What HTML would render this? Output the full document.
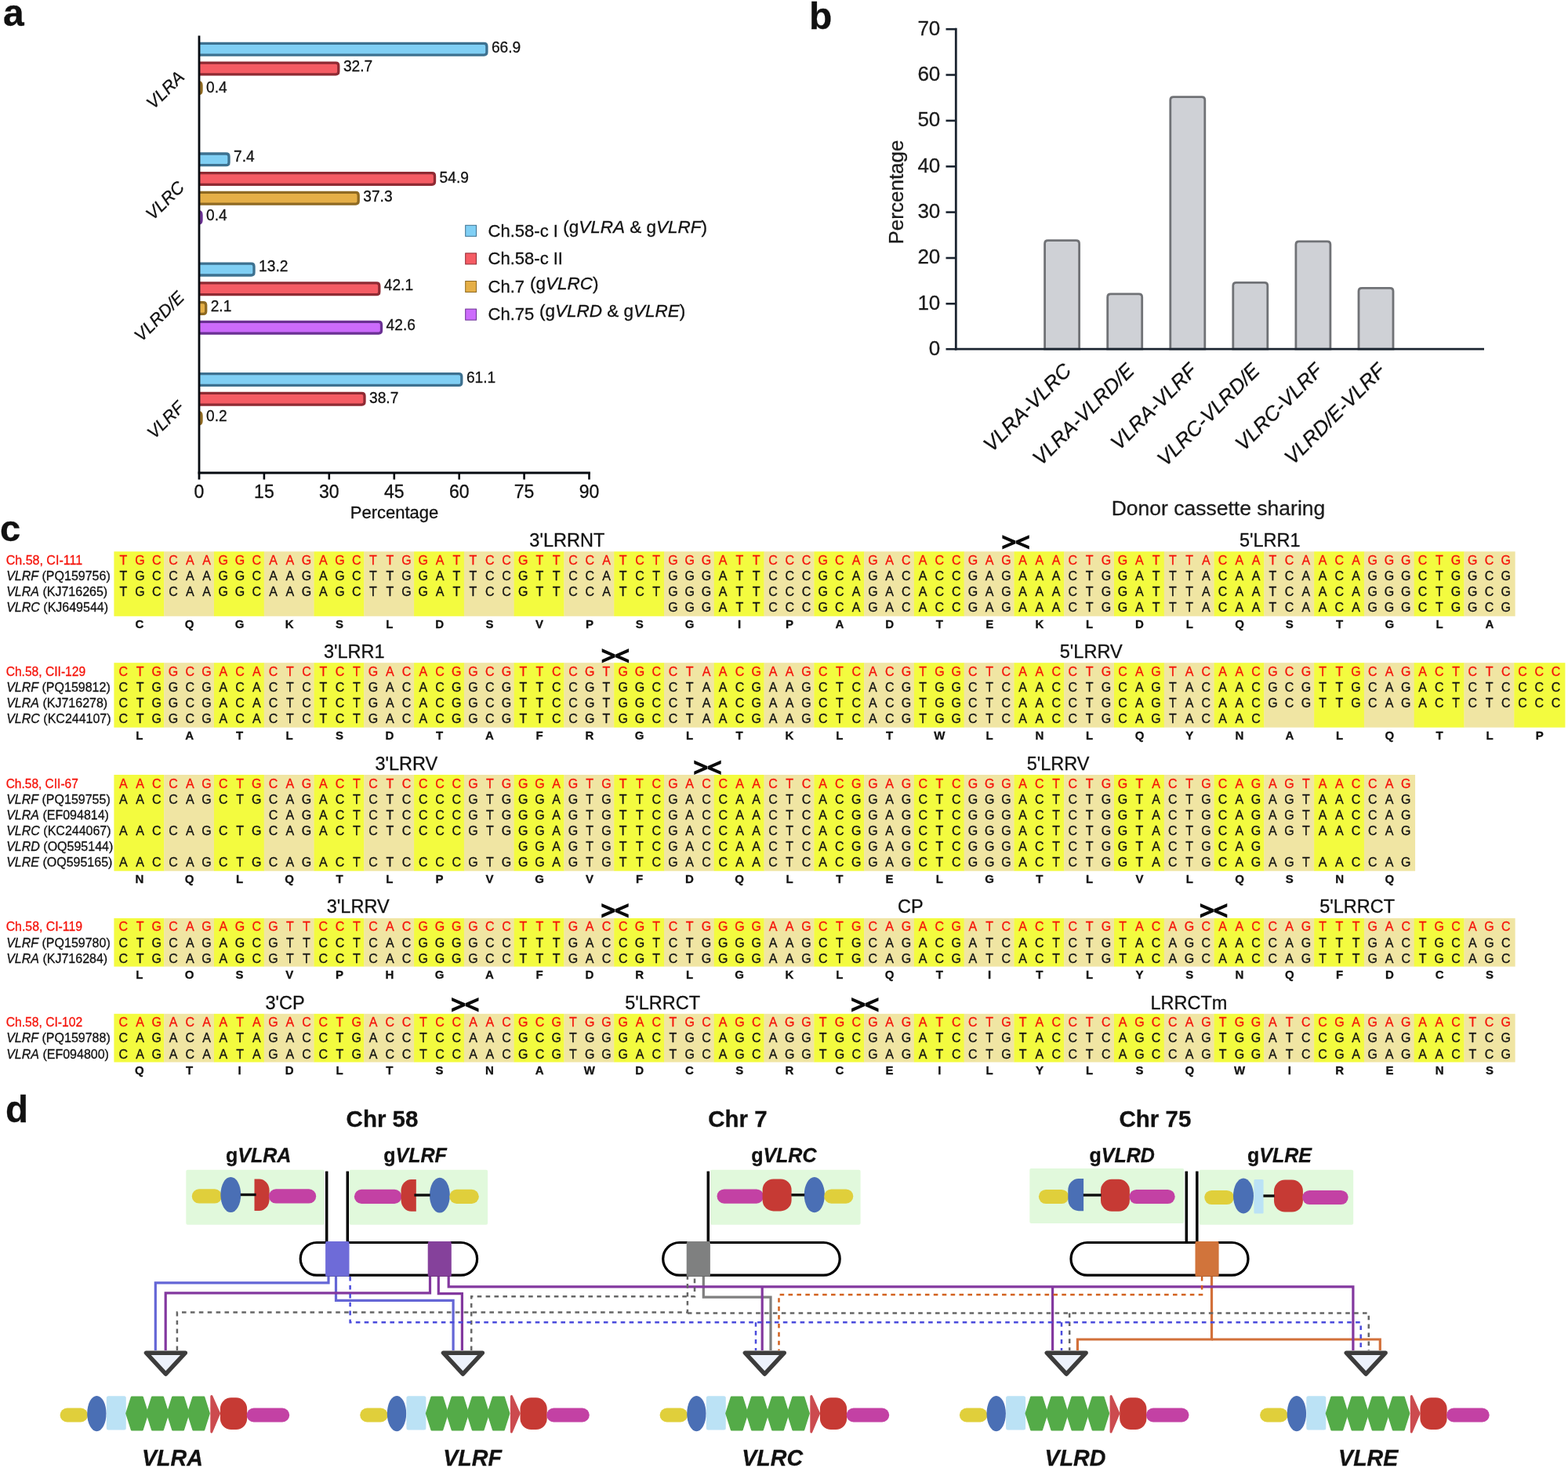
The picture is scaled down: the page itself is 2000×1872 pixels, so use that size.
<!DOCTYPE html>
<html lang="en">
<head>
<meta charset="utf-8">
<title>VLR donor cassette usage</title>
<style>
html,body{margin:0;padding:0;background:#fff;}
body{width:2000px;height:1872px;overflow:hidden;}
svg{display:block;font-family:"Liberation Sans", sans-serif;}
</style>
</head>
<body>
<svg width="2000" height="1872" viewBox="0 0 2000 1872">
<rect x="0" y="0" width="2000" height="1872" fill="#fff"/>
<g id="panel-a">
<text stroke="#111" stroke-width="0.3" x="4.0" y="33.2" font-size="48" text-anchor="start" font-weight="bold" font-style="normal" fill="#111" >a</text>
<path d="M254.0,55.4 H617.4 Q620.9,55.4 620.9,58.9 V66.6 Q620.9,70.1 617.4,70.1 H254.0" fill="#80cff4" stroke="#3d7190" stroke-width="3.3"/>
<text stroke="#111" stroke-width="0.3" x="626.9" y="66.5" font-size="21" text-anchor="start" font-weight="normal" font-style="normal" fill="#111" textLength="37.3" lengthAdjust="spacingAndGlyphs">66.9</text>
<path d="M254.0,80.2 H428.3 Q431.8,80.2 431.8,83.7 V91.3 Q431.8,94.8 428.3,94.8 H254.0" fill="#f55c64" stroke="#8f2a33" stroke-width="3.3"/>
<text stroke="#111" stroke-width="0.3" x="437.9" y="91.3" font-size="21" text-anchor="start" font-weight="normal" font-style="normal" fill="#111" textLength="37.3" lengthAdjust="spacingAndGlyphs">32.7</text>
<path d="M254.0,104.8 H254.0 Q257.0,104.8 257.0,108.8 V115.5 Q257.0,119.5 254.0,119.5 H254.0" fill="#e5af47" stroke="#8f6a22" stroke-width="3.3"/>
<text stroke="#111" stroke-width="0.3" x="263.0" y="117.7" font-size="21" text-anchor="start" font-weight="normal" font-style="normal" fill="#111" textLength="26.6" lengthAdjust="spacingAndGlyphs">0.4</text>
<text stroke="#111" stroke-width="0.3" transform="translate(236.5,99.7) rotate(-45)" font-size="22" font-style="italic" text-anchor="end" fill="#111">VLRA</text>
<path d="M254.0,196.0 H288.5 Q292.0,196.0 292.0,199.5 V207.2 Q292.0,210.7 288.5,210.7 H254.0" fill="#80cff4" stroke="#3d7190" stroke-width="3.3"/>
<text stroke="#111" stroke-width="0.3" x="298.0" y="205.7" font-size="21" text-anchor="start" font-weight="normal" font-style="normal" fill="#111" textLength="26.6" lengthAdjust="spacingAndGlyphs">7.4</text>
<path d="M254.0,220.7 H551.0 Q554.5,220.7 554.5,224.2 V231.8 Q554.5,235.3 551.0,235.3 H254.0" fill="#f55c64" stroke="#8f2a33" stroke-width="3.3"/>
<text stroke="#111" stroke-width="0.3" x="560.6" y="232.9" font-size="21" text-anchor="start" font-weight="normal" font-style="normal" fill="#111" textLength="37.3" lengthAdjust="spacingAndGlyphs">54.9</text>
<path d="M254.0,245.4 H453.7 Q457.2,245.4 457.2,248.9 V256.6 Q457.2,260.1 453.7,260.1 H254.0" fill="#e5af47" stroke="#8f6a22" stroke-width="3.3"/>
<text stroke="#111" stroke-width="0.3" x="463.3" y="256.7" font-size="21" text-anchor="start" font-weight="normal" font-style="normal" fill="#111" textLength="37.3" lengthAdjust="spacingAndGlyphs">37.3</text>
<path d="M254.0,270.0 H254.0 Q257.0,270.0 257.0,274.0 V280.8 Q257.0,284.8 254.0,284.8 H254.0" fill="#cc6bfb" stroke="#6a3093" stroke-width="3.3"/>
<text stroke="#111" stroke-width="0.3" x="263.0" y="280.6" font-size="21" text-anchor="start" font-weight="normal" font-style="normal" fill="#111" textLength="26.6" lengthAdjust="spacingAndGlyphs">0.4</text>
<text stroke="#111" stroke-width="0.3" transform="translate(236.5,240.2) rotate(-45)" font-size="22" font-style="italic" text-anchor="end" fill="#111">VLRC</text>
<path d="M254.0,336.2 H320.5 Q324.0,336.2 324.0,339.8 V347.5 Q324.0,351.0 320.5,351.0 H254.0" fill="#80cff4" stroke="#3d7190" stroke-width="3.3"/>
<text stroke="#111" stroke-width="0.3" x="330.1" y="346.3" font-size="21" text-anchor="start" font-weight="normal" font-style="normal" fill="#111" textLength="37.3" lengthAdjust="spacingAndGlyphs">13.2</text>
<path d="M254.0,360.9 H480.3 Q483.8,360.9 483.8,364.4 V372.2 Q483.8,375.7 480.3,375.7 H254.0" fill="#f55c64" stroke="#8f2a33" stroke-width="3.3"/>
<text stroke="#111" stroke-width="0.3" x="489.8" y="369.9" font-size="21" text-anchor="start" font-weight="normal" font-style="normal" fill="#111" textLength="37.3" lengthAdjust="spacingAndGlyphs">42.1</text>
<path d="M254.0,385.6 H259.2 Q262.7,385.6 262.7,389.1 V396.9 Q262.7,400.4 259.2,400.4 H254.0" fill="#e5af47" stroke="#8f6a22" stroke-width="3.3"/>
<text stroke="#111" stroke-width="0.3" x="268.7" y="397.0" font-size="21" text-anchor="start" font-weight="normal" font-style="normal" fill="#111" textLength="26.6" lengthAdjust="spacingAndGlyphs">2.1</text>
<path d="M254.0,410.4 H483.0 Q486.5,410.4 486.5,413.9 V421.6 Q486.5,425.1 483.0,425.1 H254.0" fill="#cc6bfb" stroke="#6a3093" stroke-width="3.3"/>
<text stroke="#111" stroke-width="0.3" x="492.6" y="420.9" font-size="21" text-anchor="start" font-weight="normal" font-style="normal" fill="#111" textLength="37.3" lengthAdjust="spacingAndGlyphs">42.6</text>
<text stroke="#111" stroke-width="0.3" transform="translate(236.5,380.5) rotate(-45)" font-size="22" font-style="italic" text-anchor="end" fill="#111">VLRD/E</text>
<path d="M254.0,476.6 H585.3 Q588.8,476.6 588.8,480.1 V487.9 Q588.8,491.4 585.3,491.4 H254.0" fill="#80cff4" stroke="#3d7190" stroke-width="3.3"/>
<text stroke="#111" stroke-width="0.3" x="594.9" y="488.4" font-size="21" text-anchor="start" font-weight="normal" font-style="normal" fill="#111" textLength="37.3" lengthAdjust="spacingAndGlyphs">61.1</text>
<path d="M254.0,501.3 H461.5 Q465.0,501.3 465.0,504.8 V512.6 Q465.0,516.1 461.5,516.1 H254.0" fill="#f55c64" stroke="#8f2a33" stroke-width="3.3"/>
<text stroke="#111" stroke-width="0.3" x="471.0" y="514.0" font-size="21" text-anchor="start" font-weight="normal" font-style="normal" fill="#111" textLength="37.3" lengthAdjust="spacingAndGlyphs">38.7</text>
<path d="M254.0,526.0 H254.0 Q257.0,526.0 257.0,530.0 V536.8 Q257.0,540.8 254.0,540.8 H254.0" fill="#e5af47" stroke="#8f6a22" stroke-width="3.3"/>
<text stroke="#111" stroke-width="0.3" x="263.0" y="537.4" font-size="21" text-anchor="start" font-weight="normal" font-style="normal" fill="#111" textLength="26.6" lengthAdjust="spacingAndGlyphs">0.2</text>
<text stroke="#111" stroke-width="0.3" transform="translate(236.5,520.9) rotate(-45)" font-size="22" font-style="italic" text-anchor="end" fill="#111">VLRF</text>
<line x1="254.0" y1="45.5" x2="254.0" y2="611.5" stroke="#060a10" stroke-width="2.8"/>
<line x1="252.6" y1="603.0" x2="752.9" y2="603.0" stroke="#060a10" stroke-width="2.8"/>
<text stroke="#111" stroke-width="0.3" x="254.0" y="635.0" font-size="23" text-anchor="middle" font-weight="normal" font-style="normal" fill="#111" >0</text>
<line x1="336.9" y1="603.0" x2="336.9" y2="611.5" stroke="#060a10" stroke-width="2.6"/>
<text stroke="#111" stroke-width="0.3" x="336.9" y="635.0" font-size="23" text-anchor="middle" font-weight="normal" font-style="normal" fill="#111" >15</text>
<line x1="419.8" y1="603.0" x2="419.8" y2="611.5" stroke="#060a10" stroke-width="2.6"/>
<text stroke="#111" stroke-width="0.3" x="419.8" y="635.0" font-size="23" text-anchor="middle" font-weight="normal" font-style="normal" fill="#111" >30</text>
<line x1="502.8" y1="603.0" x2="502.8" y2="611.5" stroke="#060a10" stroke-width="2.6"/>
<text stroke="#111" stroke-width="0.3" x="502.8" y="635.0" font-size="23" text-anchor="middle" font-weight="normal" font-style="normal" fill="#111" >45</text>
<line x1="585.7" y1="603.0" x2="585.7" y2="611.5" stroke="#060a10" stroke-width="2.6"/>
<text stroke="#111" stroke-width="0.3" x="585.7" y="635.0" font-size="23" text-anchor="middle" font-weight="normal" font-style="normal" fill="#111" >60</text>
<line x1="668.6" y1="603.0" x2="668.6" y2="611.5" stroke="#060a10" stroke-width="2.6"/>
<text stroke="#111" stroke-width="0.3" x="668.6" y="635.0" font-size="23" text-anchor="middle" font-weight="normal" font-style="normal" fill="#111" >75</text>
<line x1="751.5" y1="603.0" x2="751.5" y2="611.5" stroke="#060a10" stroke-width="2.6"/>
<text stroke="#111" stroke-width="0.3" x="751.5" y="635.0" font-size="23" text-anchor="middle" font-weight="normal" font-style="normal" fill="#111" >90</text>
<text stroke="#111" stroke-width="0.3" x="503.0" y="661.3" font-size="22" text-anchor="middle" font-weight="normal" font-style="normal" fill="#111" >Percentage</text>
<rect x="593.7" y="287.3" width="13.8" height="14" fill="#80cff4" stroke="#3d7190" stroke-width="1"/>
<text stroke="#111" stroke-width="0.3" x="622.6" y="301.6" font-size="22" text-anchor="start" font-weight="normal" font-style="normal" fill="#111" >Ch.58-c I</text>
<text stroke="#111" stroke-width="0.3" x="718.2" y="297.4" font-size="22.5" text-anchor="start" font-weight="normal" font-style="normal" fill="#111" >(g<tspan font-style="italic">VLRA</tspan> &amp; g<tspan font-style="italic">VLRF</tspan>)</text>
<rect x="593.7" y="322.9" width="13.8" height="14" fill="#f55c64" stroke="#8f2a33" stroke-width="1"/>
<text stroke="#111" stroke-width="0.3" x="622.6" y="337.2" font-size="22" text-anchor="start" font-weight="normal" font-style="normal" fill="#111" >Ch.58-c II</text>
<rect x="593.7" y="358.5" width="13.8" height="14" fill="#e5af47" stroke="#8f6a22" stroke-width="1"/>
<text stroke="#111" stroke-width="0.3" x="622.6" y="372.8" font-size="22" text-anchor="start" font-weight="normal" font-style="normal" fill="#111" >Ch.7</text>
<text stroke="#111" stroke-width="0.3" x="675.9" y="368.6" font-size="22.5" text-anchor="start" font-weight="normal" font-style="normal" fill="#111" >(g<tspan font-style="italic">VLRC</tspan>)</text>
<rect x="593.7" y="394.1" width="13.8" height="14" fill="#cc6bfb" stroke="#6a3093" stroke-width="1"/>
<text stroke="#111" stroke-width="0.3" x="622.6" y="408.4" font-size="22" text-anchor="start" font-weight="normal" font-style="normal" fill="#111" >Ch.75</text>
<text stroke="#111" stroke-width="0.3" x="688.0" y="404.2" font-size="22.5" text-anchor="start" font-weight="normal" font-style="normal" fill="#111" >(g<tspan font-style="italic">VLRD</tspan> &amp; g<tspan font-style="italic">VLRE</tspan>)</text>
</g>
<g id="panel-b">
<text stroke="#111" stroke-width="0.3" x="1032.0" y="36.6" font-size="48" text-anchor="start" font-weight="bold" font-style="normal" fill="#111" >b</text>
<path d="M1332.6,445.2 V310.7 Q1332.6,306.7 1336.6,306.7 H1372.6 Q1376.6,306.7 1376.6,310.7 V445.2 Z" fill="#cfd1d6" stroke="#707276" stroke-width="2.8"/>
<text stroke="#111" stroke-width="0.3" transform="translate(1368.1,474.2) rotate(-45)" font-size="26" font-style="italic" text-anchor="end" fill="#111">VLRA-VLRC</text>
<path d="M1412.7,445.2 V378.9 Q1412.7,374.9 1416.7,374.9 H1452.7 Q1456.7,374.9 1456.7,378.9 V445.2 Z" fill="#cfd1d6" stroke="#707276" stroke-width="2.8"/>
<text stroke="#111" stroke-width="0.3" transform="translate(1448.2,474.2) rotate(-45)" font-size="26" font-style="italic" text-anchor="end" fill="#111">VLRA-VLRD/E</text>
<path d="M1492.8,445.2 V127.6 Q1492.8,123.6 1496.8,123.6 H1532.8 Q1536.8,123.6 1536.8,127.6 V445.2 Z" fill="#cfd1d6" stroke="#707276" stroke-width="2.8"/>
<text stroke="#111" stroke-width="0.3" transform="translate(1528.3,474.2) rotate(-45)" font-size="26" font-style="italic" text-anchor="end" fill="#111">VLRA-VLRF</text>
<path d="M1572.8,445.2 V364.3 Q1572.8,360.3 1576.8,360.3 H1612.8 Q1616.8,360.3 1616.8,364.3 V445.2 Z" fill="#cfd1d6" stroke="#707276" stroke-width="2.8"/>
<text stroke="#111" stroke-width="0.3" transform="translate(1608.3,474.2) rotate(-45)" font-size="26" font-style="italic" text-anchor="end" fill="#111">VLRC-VLRD/E</text>
<path d="M1652.9,445.2 V311.8 Q1652.9,307.8 1656.9,307.8 H1692.9 Q1696.9,307.8 1696.9,311.8 V445.2 Z" fill="#cfd1d6" stroke="#707276" stroke-width="2.8"/>
<text stroke="#111" stroke-width="0.3" transform="translate(1688.4,474.2) rotate(-45)" font-size="26" font-style="italic" text-anchor="end" fill="#111">VLRC-VLRF</text>
<path d="M1733.0,445.2 V371.3 Q1733.0,367.3 1737.0,367.3 H1773.0 Q1777.0,367.3 1777.0,371.3 V445.2 Z" fill="#cfd1d6" stroke="#707276" stroke-width="2.8"/>
<text stroke="#111" stroke-width="0.3" transform="translate(1768.5,474.2) rotate(-45)" font-size="26" font-style="italic" text-anchor="end" fill="#111">VLRD/E-VLRF</text>
<line x1="1219.3" y1="35.8" x2="1219.3" y2="446.59999999999997" stroke="#1b2430" stroke-width="2.8"/>
<line x1="1217.8999999999999" y1="445.2" x2="1893" y2="445.2" stroke="#1b2430" stroke-width="2.8"/>
<line x1="1206.5" y1="445.2" x2="1219.3" y2="445.2" stroke="#1b2430" stroke-width="2.6"/>
<text stroke="#1b1b1b" stroke-width="0.3" x="1199.3" y="452.6" font-size="26" text-anchor="end" font-weight="normal" font-style="normal" fill="#1b1b1b" >0</text>
<line x1="1206.5" y1="387.3" x2="1219.3" y2="387.3" stroke="#1b2430" stroke-width="2.6"/>
<text stroke="#1b1b1b" stroke-width="0.3" x="1199.3" y="394.7" font-size="26" text-anchor="end" font-weight="normal" font-style="normal" fill="#1b1b1b" >10</text>
<line x1="1206.5" y1="329.0" x2="1219.3" y2="329.0" stroke="#1b2430" stroke-width="2.6"/>
<text stroke="#1b1b1b" stroke-width="0.3" x="1199.3" y="336.4" font-size="26" text-anchor="end" font-weight="normal" font-style="normal" fill="#1b1b1b" >20</text>
<line x1="1206.5" y1="270.6" x2="1219.3" y2="270.6" stroke="#1b2430" stroke-width="2.6"/>
<text stroke="#1b1b1b" stroke-width="0.3" x="1199.3" y="278.0" font-size="26" text-anchor="end" font-weight="normal" font-style="normal" fill="#1b1b1b" >30</text>
<line x1="1206.5" y1="212.3" x2="1219.3" y2="212.3" stroke="#1b2430" stroke-width="2.6"/>
<text stroke="#1b1b1b" stroke-width="0.3" x="1199.3" y="219.7" font-size="26" text-anchor="end" font-weight="normal" font-style="normal" fill="#1b1b1b" >40</text>
<line x1="1206.5" y1="153.9" x2="1219.3" y2="153.9" stroke="#1b2430" stroke-width="2.6"/>
<text stroke="#1b1b1b" stroke-width="0.3" x="1199.3" y="161.3" font-size="26" text-anchor="end" font-weight="normal" font-style="normal" fill="#1b1b1b" >50</text>
<line x1="1206.5" y1="95.5" x2="1219.3" y2="95.5" stroke="#1b2430" stroke-width="2.6"/>
<text stroke="#1b1b1b" stroke-width="0.3" x="1199.3" y="102.9" font-size="26" text-anchor="end" font-weight="normal" font-style="normal" fill="#1b1b1b" >60</text>
<line x1="1206.5" y1="37.2" x2="1219.3" y2="37.2" stroke="#1b2430" stroke-width="2.6"/>
<text stroke="#1b1b1b" stroke-width="0.3" x="1199.3" y="44.6" font-size="26" text-anchor="end" font-weight="normal" font-style="normal" fill="#1b1b1b" >70</text>
<text stroke="#1b1b1b" stroke-width="0.3" transform="translate(1151.8,245) rotate(-90)" font-size="26" text-anchor="middle" fill="#1b1b1b">Percentage</text>
<text stroke="#1b1b1b" stroke-width="0.3" x="1554.0" y="657.2" font-size="26" text-anchor="middle" font-weight="normal" font-style="normal" fill="#1b1b1b" textLength="272.6" lengthAdjust="spacingAndGlyphs">Donor cassette sharing</text>
</g>
<g id="panel-c">
<text stroke="#111" stroke-width="0.3" x="0.0" y="690.4" font-size="47" text-anchor="start" font-weight="bold" font-style="normal" fill="#111" >c</text>
<rect x="145.40" y="703.3" width="64.08" height="82.5" fill="#f3fb3f"/>
<rect x="209.18" y="703.3" width="64.08" height="82.5" fill="#f0e5a3"/>
<rect x="272.96" y="703.3" width="64.08" height="82.5" fill="#f3fb3f"/>
<rect x="336.74" y="703.3" width="64.08" height="82.5" fill="#f0e5a3"/>
<rect x="400.52" y="703.3" width="64.08" height="82.5" fill="#f3fb3f"/>
<rect x="464.30" y="703.3" width="64.08" height="82.5" fill="#f0e5a3"/>
<rect x="528.08" y="703.3" width="64.08" height="82.5" fill="#f3fb3f"/>
<rect x="591.86" y="703.3" width="64.08" height="82.5" fill="#f0e5a3"/>
<rect x="655.64" y="703.3" width="64.08" height="82.5" fill="#f3fb3f"/>
<rect x="719.42" y="703.3" width="64.08" height="82.5" fill="#f0e5a3"/>
<rect x="783.20" y="703.3" width="64.08" height="82.5" fill="#f3fb3f"/>
<rect x="846.98" y="703.3" width="64.08" height="82.5" fill="#f0e5a3"/>
<rect x="910.76" y="703.3" width="64.08" height="82.5" fill="#f3fb3f"/>
<rect x="974.54" y="703.3" width="64.08" height="82.5" fill="#f0e5a3"/>
<rect x="1038.32" y="703.3" width="64.08" height="82.5" fill="#f3fb3f"/>
<rect x="1102.10" y="703.3" width="64.08" height="82.5" fill="#f0e5a3"/>
<rect x="1165.88" y="703.3" width="64.08" height="82.5" fill="#f3fb3f"/>
<rect x="1229.66" y="703.3" width="64.08" height="82.5" fill="#f0e5a3"/>
<rect x="1293.44" y="703.3" width="64.08" height="82.5" fill="#f3fb3f"/>
<rect x="1357.22" y="703.3" width="64.08" height="82.5" fill="#f0e5a3"/>
<rect x="1421.00" y="703.3" width="64.08" height="82.5" fill="#f3fb3f"/>
<rect x="1484.78" y="703.3" width="64.08" height="82.5" fill="#f0e5a3"/>
<rect x="1548.56" y="703.3" width="64.08" height="82.5" fill="#f3fb3f"/>
<rect x="1612.34" y="703.3" width="64.08" height="82.5" fill="#f0e5a3"/>
<rect x="1676.12" y="703.3" width="64.08" height="82.5" fill="#f3fb3f"/>
<rect x="1739.90" y="703.3" width="64.08" height="82.5" fill="#f0e5a3"/>
<rect x="1803.68" y="703.3" width="64.08" height="82.5" fill="#f3fb3f"/>
<rect x="1867.46" y="703.3" width="65.18" height="82.5" fill="#f0e5a3"/>
<text stroke="#f5130a" stroke-width="0.3" x="7.7" y="719.8" font-size="16" text-anchor="start" font-weight="normal" font-style="normal" fill="#f5130a" textLength="97.4" lengthAdjust="spacingAndGlyphs">Ch.58, CI-111</text>
<text stroke="#f5130a" stroke-width="0.3" x="157.3 178.6 199.8 221.1 242.3 263.6 284.8 306.1 327.3 348.5 369.8 391.0 412.3 433.5 454.8 476.0 497.3 518.5 539.8 561.0 582.3 603.5 624.8 646.0 667.3 688.5 709.7 731.0 752.2 773.5 794.7 816.0 837.2 858.5 879.7 901.0 922.2 943.5 964.7 986.0 1007.2 1028.5 1049.7 1070.9 1092.2 1113.4 1134.7 1155.9 1177.2 1198.4 1219.7 1240.9 1262.2 1283.4 1304.7 1325.9 1347.2 1368.4 1389.6 1410.9 1432.1 1453.4 1474.6 1495.9 1517.1 1538.4 1559.6 1580.9 1602.1 1623.4 1644.6 1665.9 1687.1 1708.4 1729.6 1750.8 1772.1 1793.3 1814.6 1835.8 1857.1 1878.3 1899.6 1920.8" y="719.8" font-size="16" text-anchor="middle" fill="#f5130a">TGCCAAGGCAAGAGCTTGGATTCCGTTCCATCTGGGATTCCCGCAGACACCGAGAAACTGGATTTACAATCAACAGGGCTGGCG</text>
<text stroke="#111" stroke-width="0.3" x="8.2" y="739.9" font-size="16" fill="#111"><tspan font-style="italic">VLRF</tspan> (PQ159756)</text>
<text stroke="#111" stroke-width="0.3" x="157.3 178.6 199.8 221.1 242.3 263.6 284.8 306.1 327.3 348.5 369.8 391.0 412.3 433.5 454.8 476.0 497.3 518.5 539.8 561.0 582.3 603.5 624.8 646.0 667.3 688.5 709.7 731.0 752.2 773.5 794.7 816.0 837.2 858.5 879.7 901.0 922.2 943.5 964.7 986.0 1007.2 1028.5 1049.7 1070.9 1092.2 1113.4 1134.7 1155.9 1177.2 1198.4 1219.7 1240.9 1262.2 1283.4 1304.7 1325.9 1347.2 1368.4 1389.6 1410.9 1432.1 1453.4 1474.6 1495.9 1517.1 1538.4 1559.6 1580.9 1602.1 1623.4 1644.6 1665.9 1687.1 1708.4 1729.6 1750.8 1772.1 1793.3 1814.6 1835.8 1857.1 1878.3 1899.6 1920.8" y="739.9" font-size="16" text-anchor="middle" fill="#111">TGCCAAGGCAAGAGCTTGGATTCCGTTCCATCTGGGATTCCCGCAGACACCGAGAAACTGGATTTACAATCAACAGGGCTGGCG</text>
<text stroke="#111" stroke-width="0.3" x="8.2" y="760.1" font-size="16" fill="#111"><tspan font-style="italic">VLRA</tspan> (KJ716265)</text>
<text stroke="#111" stroke-width="0.3" x="157.3 178.6 199.8 221.1 242.3 263.6 284.8 306.1 327.3 348.5 369.8 391.0 412.3 433.5 454.8 476.0 497.3 518.5 539.8 561.0 582.3 603.5 624.8 646.0 667.3 688.5 709.7 731.0 752.2 773.5 794.7 816.0 837.2 858.5 879.7 901.0 922.2 943.5 964.7 986.0 1007.2 1028.5 1049.7 1070.9 1092.2 1113.4 1134.7 1155.9 1177.2 1198.4 1219.7 1240.9 1262.2 1283.4 1304.7 1325.9 1347.2 1368.4 1389.6 1410.9 1432.1 1453.4 1474.6 1495.9 1517.1 1538.4 1559.6 1580.9 1602.1 1623.4 1644.6 1665.9 1687.1 1708.4 1729.6 1750.8 1772.1 1793.3 1814.6 1835.8 1857.1 1878.3 1899.6 1920.8" y="760.1" font-size="16" text-anchor="middle" fill="#111">TGCCAAGGCAAGAGCTTGGATTCCGTTCCATCTGGGATTCCCGCAGACACCGAGAAACTGGATTTACAATCAACAGGGCTGGCG</text>
<text stroke="#111" stroke-width="0.3" x="8.2" y="780.2" font-size="16" fill="#111"><tspan font-style="italic">VLRC</tspan> (KJ649544)</text>
<text stroke="#111" stroke-width="0.3" x="858.5 879.7 901.0 922.2 943.5 964.7 986.0 1007.2 1028.5 1049.7 1070.9 1092.2 1113.4 1134.7 1155.9 1177.2 1198.4 1219.7 1240.9 1262.2 1283.4 1304.7 1325.9 1347.2 1368.4 1389.6 1410.9 1432.1 1453.4 1474.6 1495.9 1517.1 1538.4 1559.6 1580.9 1602.1 1623.4 1644.6 1665.9 1687.1 1708.4 1729.6 1750.8 1772.1 1793.3 1814.6 1835.8 1857.1 1878.3 1899.6 1920.8" y="780.2" font-size="16" text-anchor="middle" fill="#111">GGGATTCCCGCAGACACCGAGAAACTGGATTTACAATCAACAGGGCTGGCG</text>
<text stroke="#111" stroke-width="0.3" x="177.9 241.7 305.5 369.2 433.0 496.8 560.6 624.4 688.1 751.9 815.7 879.5 943.2 1007.0 1070.8 1134.6 1198.4 1262.2 1325.9 1389.7 1453.5 1517.3 1581.0 1644.8 1708.6 1772.4 1836.2 1900.0" y="801.0" font-size="15" font-weight="bold" text-anchor="middle" fill="#111">CQGKSLDSVPSGIPADTEKLDLQSTGLA</text>
<text stroke="#111" stroke-width="0.3" x="723.3" y="697.4" font-size="23.5" text-anchor="middle" font-weight="normal" font-style="normal" fill="#111" >3'LRRNT</text>
<text stroke="#111" stroke-width="0.3" x="1619.7" y="697.4" font-size="23.5" text-anchor="middle" font-weight="normal" font-style="normal" fill="#111" >5'LRR1</text>
<polygon points="1278.4,682.2 1295.4,689.5 1295.4,693.3 1278.4,700.6 1278.4,696.3 1289.8,691.4 1278.4,686.5" fill="#0a0a0a"/>
<polygon points="1312.8,682.2 1295.8,689.5 1295.8,693.3 1312.8,700.6 1312.8,696.3 1301.4,691.4 1312.8,686.5" fill="#0a0a0a"/>
<rect x="145.40" y="845.2" width="64.08" height="82.5" fill="#f3fb3f"/>
<rect x="209.18" y="845.2" width="64.08" height="82.5" fill="#f0e5a3"/>
<rect x="272.96" y="845.2" width="64.08" height="82.5" fill="#f3fb3f"/>
<rect x="336.74" y="845.2" width="64.08" height="82.5" fill="#f0e5a3"/>
<rect x="400.52" y="845.2" width="64.08" height="82.5" fill="#f3fb3f"/>
<rect x="464.30" y="845.2" width="64.08" height="82.5" fill="#f0e5a3"/>
<rect x="528.08" y="845.2" width="64.08" height="82.5" fill="#f3fb3f"/>
<rect x="591.86" y="845.2" width="64.08" height="82.5" fill="#f0e5a3"/>
<rect x="655.64" y="845.2" width="64.08" height="82.5" fill="#f3fb3f"/>
<rect x="719.42" y="845.2" width="64.08" height="82.5" fill="#f0e5a3"/>
<rect x="783.20" y="845.2" width="64.08" height="82.5" fill="#f3fb3f"/>
<rect x="846.98" y="845.2" width="64.08" height="82.5" fill="#f0e5a3"/>
<rect x="910.76" y="845.2" width="64.08" height="82.5" fill="#f3fb3f"/>
<rect x="974.54" y="845.2" width="64.08" height="82.5" fill="#f0e5a3"/>
<rect x="1038.32" y="845.2" width="64.08" height="82.5" fill="#f3fb3f"/>
<rect x="1102.10" y="845.2" width="64.08" height="82.5" fill="#f0e5a3"/>
<rect x="1165.88" y="845.2" width="64.08" height="82.5" fill="#f3fb3f"/>
<rect x="1229.66" y="845.2" width="64.08" height="82.5" fill="#f0e5a3"/>
<rect x="1293.44" y="845.2" width="64.08" height="82.5" fill="#f3fb3f"/>
<rect x="1357.22" y="845.2" width="64.08" height="82.5" fill="#f0e5a3"/>
<rect x="1421.00" y="845.2" width="64.08" height="82.5" fill="#f3fb3f"/>
<rect x="1484.78" y="845.2" width="64.08" height="82.5" fill="#f0e5a3"/>
<rect x="1548.56" y="845.2" width="64.08" height="82.5" fill="#f3fb3f"/>
<rect x="1612.34" y="845.2" width="64.08" height="82.5" fill="#f0e5a3"/>
<rect x="1676.12" y="845.2" width="64.08" height="82.5" fill="#f3fb3f"/>
<rect x="1739.90" y="845.2" width="64.08" height="82.5" fill="#f0e5a3"/>
<rect x="1803.68" y="845.2" width="64.08" height="82.5" fill="#f3fb3f"/>
<rect x="1867.46" y="845.2" width="64.08" height="82.5" fill="#f0e5a3"/>
<rect x="1931.24" y="845.2" width="65.18" height="82.5" fill="#f3fb3f"/>
<text stroke="#f5130a" stroke-width="0.3" x="7.7" y="861.7" font-size="16" text-anchor="start" font-weight="normal" font-style="normal" fill="#f5130a" textLength="101.4" lengthAdjust="spacingAndGlyphs">Ch.58, CII-129</text>
<text stroke="#f5130a" stroke-width="0.3" x="157.3 178.6 199.8 221.1 242.3 263.6 284.8 306.1 327.3 348.5 369.8 391.0 412.3 433.5 454.8 476.0 497.3 518.5 539.8 561.0 582.3 603.5 624.8 646.0 667.3 688.5 709.7 731.0 752.2 773.5 794.7 816.0 837.2 858.5 879.7 901.0 922.2 943.5 964.7 986.0 1007.2 1028.5 1049.7 1070.9 1092.2 1113.4 1134.7 1155.9 1177.2 1198.4 1219.7 1240.9 1262.2 1283.4 1304.7 1325.9 1347.2 1368.4 1389.6 1410.9 1432.1 1453.4 1474.6 1495.9 1517.1 1538.4 1559.6 1580.9 1602.1 1623.4 1644.6 1665.9 1687.1 1708.4 1729.6 1750.8 1772.1 1793.3 1814.6 1835.8 1857.1 1878.3 1899.6 1920.8 1942.1 1963.3 1984.6" y="861.7" font-size="16" text-anchor="middle" fill="#f5130a">CTGGCGACACTCTCTGACACGGCGTTCCGTGGCCTAACGAAGCTCACGTGGCTCAACCTGCAGTACAACGCGTTGCAGACTCTCCCC</text>
<text stroke="#111" stroke-width="0.3" x="8.2" y="881.8" font-size="16" fill="#111"><tspan font-style="italic">VLRF</tspan> (PQ159812)</text>
<text stroke="#111" stroke-width="0.3" x="157.3 178.6 199.8 221.1 242.3 263.6 284.8 306.1 327.3 348.5 369.8 391.0 412.3 433.5 454.8 476.0 497.3 518.5 539.8 561.0 582.3 603.5 624.8 646.0 667.3 688.5 709.7 731.0 752.2 773.5 794.7 816.0 837.2 858.5 879.7 901.0 922.2 943.5 964.7 986.0 1007.2 1028.5 1049.7 1070.9 1092.2 1113.4 1134.7 1155.9 1177.2 1198.4 1219.7 1240.9 1262.2 1283.4 1304.7 1325.9 1347.2 1368.4 1389.6 1410.9 1432.1 1453.4 1474.6 1495.9 1517.1 1538.4 1559.6 1580.9 1602.1 1623.4 1644.6 1665.9 1687.1 1708.4 1729.6 1750.8 1772.1 1793.3 1814.6 1835.8 1857.1 1878.3 1899.6 1920.8 1942.1 1963.3 1984.6" y="881.8" font-size="16" text-anchor="middle" fill="#111">CTGGCGACACTCTCTGACACGGCGTTCCGTGGCCTAACGAAGCTCACGTGGCTCAACCTGCAGTACAACGCGTTGCAGACTCTCCCC</text>
<text stroke="#111" stroke-width="0.3" x="8.2" y="902.0" font-size="16" fill="#111"><tspan font-style="italic">VLRA</tspan> (KJ716278)</text>
<text stroke="#111" stroke-width="0.3" x="157.3 178.6 199.8 221.1 242.3 263.6 284.8 306.1 327.3 348.5 369.8 391.0 412.3 433.5 454.8 476.0 497.3 518.5 539.8 561.0 582.3 603.5 624.8 646.0 667.3 688.5 709.7 731.0 752.2 773.5 794.7 816.0 837.2 858.5 879.7 901.0 922.2 943.5 964.7 986.0 1007.2 1028.5 1049.7 1070.9 1092.2 1113.4 1134.7 1155.9 1177.2 1198.4 1219.7 1240.9 1262.2 1283.4 1304.7 1325.9 1347.2 1368.4 1389.6 1410.9 1432.1 1453.4 1474.6 1495.9 1517.1 1538.4 1559.6 1580.9 1602.1 1623.4 1644.6 1665.9 1687.1 1708.4 1729.6 1750.8 1772.1 1793.3 1814.6 1835.8 1857.1 1878.3 1899.6 1920.8 1942.1 1963.3 1984.6" y="902.0" font-size="16" text-anchor="middle" fill="#111">CTGGCGACACTCTCTGACACGGCGTTCCGTGGCCTAACGAAGCTCACGTGGCTCAACCTGCAGTACAACGCGTTGCAGACTCTCCCC</text>
<text stroke="#111" stroke-width="0.3" x="8.2" y="922.1" font-size="16" fill="#111"><tspan font-style="italic">VLRC</tspan> (KC244107)</text>
<text stroke="#111" stroke-width="0.3" x="157.3 178.6 199.8 221.1 242.3 263.6 284.8 306.1 327.3 348.5 369.8 391.0 412.3 433.5 454.8 476.0 497.3 518.5 539.8 561.0 582.3 603.5 624.8 646.0 667.3 688.5 709.7 731.0 752.2 773.5 794.7 816.0 837.2 858.5 879.7 901.0 922.2 943.5 964.7 986.0 1007.2 1028.5 1049.7 1070.9 1092.2 1113.4 1134.7 1155.9 1177.2 1198.4 1219.7 1240.9 1262.2 1283.4 1304.7 1325.9 1347.2 1368.4 1389.6 1410.9 1432.1 1453.4 1474.6 1495.9 1517.1 1538.4 1559.6 1580.9 1602.1" y="922.1" font-size="16" text-anchor="middle" fill="#111">CTGGCGACACTCTCTGACACGGCGTTCCGTGGCCTAACGAAGCTCACGTGGCTCAACCTGCAGTACAAC</text>
<text stroke="#111" stroke-width="0.3" x="177.9 241.7 305.5 369.2 433.0 496.8 560.6 624.4 688.1 751.9 815.7 879.5 943.2 1007.0 1070.8 1134.6 1198.4 1262.2 1325.9 1389.7 1453.5 1517.3 1581.0 1644.8 1708.6 1772.4 1836.2 1900.0 1963.7" y="942.9" font-size="15" font-weight="bold" text-anchor="middle" fill="#111">LATLSDTAFRGLTKLTWLNLQYNALQTLP</text>
<text stroke="#111" stroke-width="0.3" x="451.8" y="838.8" font-size="23.5" text-anchor="middle" font-weight="normal" font-style="normal" fill="#111" >3'LRR1</text>
<text stroke="#111" stroke-width="0.3" x="1391.7" y="838.8" font-size="23.5" text-anchor="middle" font-weight="normal" font-style="normal" fill="#111" >5'LRRV</text>
<polygon points="767.7,827.1 784.7,834.4 784.7,838.2 767.7,845.5 767.7,841.2 779.1,836.3 767.7,831.4" fill="#0a0a0a"/>
<polygon points="802.1,827.1 785.1,834.4 785.1,838.2 802.1,845.5 802.1,841.2 790.7,836.3 802.1,831.4" fill="#0a0a0a"/>
<rect x="145.40" y="988.0" width="64.08" height="122.7" fill="#f3fb3f"/>
<rect x="209.18" y="988.0" width="64.08" height="122.7" fill="#f0e5a3"/>
<rect x="272.96" y="988.0" width="64.08" height="122.7" fill="#f3fb3f"/>
<rect x="336.74" y="988.0" width="64.08" height="122.7" fill="#f0e5a3"/>
<rect x="400.52" y="988.0" width="64.08" height="122.7" fill="#f3fb3f"/>
<rect x="464.30" y="988.0" width="64.08" height="122.7" fill="#f0e5a3"/>
<rect x="528.08" y="988.0" width="64.08" height="122.7" fill="#f3fb3f"/>
<rect x="591.86" y="988.0" width="64.08" height="122.7" fill="#f0e5a3"/>
<rect x="655.64" y="988.0" width="64.08" height="122.7" fill="#f3fb3f"/>
<rect x="719.42" y="988.0" width="64.08" height="122.7" fill="#f0e5a3"/>
<rect x="783.20" y="988.0" width="64.08" height="122.7" fill="#f3fb3f"/>
<rect x="846.98" y="988.0" width="64.08" height="122.7" fill="#f0e5a3"/>
<rect x="910.76" y="988.0" width="64.08" height="122.7" fill="#f3fb3f"/>
<rect x="974.54" y="988.0" width="64.08" height="122.7" fill="#f0e5a3"/>
<rect x="1038.32" y="988.0" width="64.08" height="122.7" fill="#f3fb3f"/>
<rect x="1102.10" y="988.0" width="64.08" height="122.7" fill="#f0e5a3"/>
<rect x="1165.88" y="988.0" width="64.08" height="122.7" fill="#f3fb3f"/>
<rect x="1229.66" y="988.0" width="64.08" height="122.7" fill="#f0e5a3"/>
<rect x="1293.44" y="988.0" width="64.08" height="122.7" fill="#f3fb3f"/>
<rect x="1357.22" y="988.0" width="64.08" height="122.7" fill="#f0e5a3"/>
<rect x="1421.00" y="988.0" width="64.08" height="122.7" fill="#f3fb3f"/>
<rect x="1484.78" y="988.0" width="64.08" height="122.7" fill="#f0e5a3"/>
<rect x="1548.56" y="988.0" width="64.08" height="122.7" fill="#f3fb3f"/>
<rect x="1612.34" y="988.0" width="64.08" height="122.7" fill="#f0e5a3"/>
<rect x="1676.12" y="988.0" width="64.08" height="122.7" fill="#f3fb3f"/>
<rect x="1739.90" y="988.0" width="65.18" height="122.7" fill="#f0e5a3"/>
<text stroke="#f5130a" stroke-width="0.3" x="7.7" y="1004.5" font-size="16" text-anchor="start" font-weight="normal" font-style="normal" fill="#f5130a" textLength="92.1" lengthAdjust="spacingAndGlyphs">Ch.58, CII-67</text>
<text stroke="#f5130a" stroke-width="0.3" x="157.3 178.6 199.8 221.1 242.3 263.6 284.8 306.1 327.3 348.5 369.8 391.0 412.3 433.5 454.8 476.0 497.3 518.5 539.8 561.0 582.3 603.5 624.8 646.0 667.3 688.5 709.7 731.0 752.2 773.5 794.7 816.0 837.2 858.5 879.7 901.0 922.2 943.5 964.7 986.0 1007.2 1028.5 1049.7 1070.9 1092.2 1113.4 1134.7 1155.9 1177.2 1198.4 1219.7 1240.9 1262.2 1283.4 1304.7 1325.9 1347.2 1368.4 1389.6 1410.9 1432.1 1453.4 1474.6 1495.9 1517.1 1538.4 1559.6 1580.9 1602.1 1623.4 1644.6 1665.9 1687.1 1708.4 1729.6 1750.8 1772.1 1793.3" y="1004.5" font-size="16" text-anchor="middle" fill="#f5130a">AACCAGCTGCAGACTCTCCCCGTGGGAGTGTTCGACCAACTCACGGAGCTCGGGACTCTGGTACTGCAGAGTAACCAG</text>
<text stroke="#111" stroke-width="0.3" x="8.2" y="1024.6" font-size="16" fill="#111"><tspan font-style="italic">VLRF</tspan> (PQ159755)</text>
<text stroke="#111" stroke-width="0.3" x="157.3 178.6 199.8 221.1 242.3 263.6 284.8 306.1 327.3 348.5 369.8 391.0 412.3 433.5 454.8 476.0 497.3 518.5 539.8 561.0 582.3 603.5 624.8 646.0 667.3 688.5 709.7 731.0 752.2 773.5 794.7 816.0 837.2 858.5 879.7 901.0 922.2 943.5 964.7 986.0 1007.2 1028.5 1049.7 1070.9 1092.2 1113.4 1134.7 1155.9 1177.2 1198.4 1219.7 1240.9 1262.2 1283.4 1304.7 1325.9 1347.2 1368.4 1389.6 1410.9 1432.1 1453.4 1474.6 1495.9 1517.1 1538.4 1559.6 1580.9 1602.1 1623.4 1644.6 1665.9 1687.1 1708.4 1729.6 1750.8 1772.1 1793.3" y="1024.6" font-size="16" text-anchor="middle" fill="#111">AACCAGCTGCAGACTCTCCCCGTGGGAGTGTTCGACCAACTCACGGAGCTCGGGACTCTGGTACTGCAGAGTAACCAG</text>
<text stroke="#111" stroke-width="0.3" x="8.2" y="1044.8" font-size="16" fill="#111"><tspan font-style="italic">VLRA</tspan> (EF094814)</text>
<text stroke="#111" stroke-width="0.3" x="348.5 369.8 391.0 412.3 433.5 454.8 476.0 497.3 518.5 539.8 561.0 582.3 603.5 624.8 646.0 667.3 688.5 709.7 731.0 752.2 773.5 794.7 816.0 837.2 858.5 879.7 901.0 922.2 943.5 964.7 986.0 1007.2 1028.5 1049.7 1070.9 1092.2 1113.4 1134.7 1155.9 1177.2 1198.4 1219.7 1240.9 1262.2 1283.4 1304.7 1325.9 1347.2 1368.4 1389.6 1410.9 1432.1 1453.4 1474.6 1495.9 1517.1 1538.4 1559.6 1580.9 1602.1 1623.4 1644.6 1665.9 1687.1 1708.4 1729.6 1750.8 1772.1 1793.3" y="1044.8" font-size="16" text-anchor="middle" fill="#111">CAGACTCTCCCCGTGGGAGTGTTCGACCAACTCACGGAGCTCGGGACTCTGGTACTGCAGAGTAACCAG</text>
<text stroke="#111" stroke-width="0.3" x="8.2" y="1064.9" font-size="16" fill="#111"><tspan font-style="italic">VLRC</tspan> (KC244067)</text>
<text stroke="#111" stroke-width="0.3" x="157.3 178.6 199.8 221.1 242.3 263.6 284.8 306.1 327.3 348.5 369.8 391.0 412.3 433.5 454.8 476.0 497.3 518.5 539.8 561.0 582.3 603.5 624.8 646.0 667.3 688.5 709.7 731.0 752.2 773.5 794.7 816.0 837.2 858.5 879.7 901.0 922.2 943.5 964.7 986.0 1007.2 1028.5 1049.7 1070.9 1092.2 1113.4 1134.7 1155.9 1177.2 1198.4 1219.7 1240.9 1262.2 1283.4 1304.7 1325.9 1347.2 1368.4 1389.6 1410.9 1432.1 1453.4 1474.6 1495.9 1517.1 1538.4 1559.6 1580.9 1602.1 1623.4 1644.6 1665.9 1687.1 1708.4 1729.6 1750.8 1772.1 1793.3" y="1064.9" font-size="16" text-anchor="middle" fill="#111">AACCAGCTGCAGACTCTCCCCGTGGGAGTGTTCGACCAACTCACGGAGCTCGGGACTCTGGTACTGCAGAGTAACCAG</text>
<text stroke="#111" stroke-width="0.3" x="8.2" y="1085.0" font-size="16" fill="#111"><tspan font-style="italic">VLRD</tspan> (OQ595144)</text>
<text stroke="#111" stroke-width="0.3" x="667.3 688.5 709.7 731.0 752.2 773.5 794.7 816.0 837.2 858.5 879.7 901.0 922.2 943.5 964.7 986.0 1007.2 1028.5 1049.7 1070.9 1092.2 1113.4 1134.7 1155.9 1177.2 1198.4 1219.7 1240.9 1262.2 1283.4 1304.7 1325.9 1347.2 1368.4 1389.6 1410.9 1432.1 1453.4 1474.6 1495.9 1517.1 1538.4 1559.6 1580.9 1602.1" y="1085.0" font-size="16" text-anchor="middle" fill="#111">GGAGTGTTCGACCAACTCACGGAGCTCGGGACTCTGGTACTGCAG</text>
<text stroke="#111" stroke-width="0.3" x="8.2" y="1105.2" font-size="16" fill="#111"><tspan font-style="italic">VLRE</tspan> (OQ595165)</text>
<text stroke="#111" stroke-width="0.3" x="157.3 178.6 199.8 221.1 242.3 263.6 284.8 306.1 327.3 348.5 369.8 391.0 412.3 433.5 454.8 476.0 497.3 518.5 539.8 561.0 582.3 603.5 624.8 646.0 667.3 688.5 709.7 731.0 752.2 773.5 794.7 816.0 837.2 858.5 879.7 901.0 922.2 943.5 964.7 986.0 1007.2 1028.5 1049.7 1070.9 1092.2 1113.4 1134.7 1155.9 1177.2 1198.4 1219.7 1240.9 1262.2 1283.4 1304.7 1325.9 1347.2 1368.4 1389.6 1410.9 1432.1 1453.4 1474.6 1495.9 1517.1 1538.4 1559.6 1580.9 1602.1 1623.4 1644.6 1665.9 1687.1 1708.4 1729.6 1750.8 1772.1 1793.3" y="1105.2" font-size="16" text-anchor="middle" fill="#111">AACCAGCTGCAGACTCTCCCCGTGGGAGTGTTCGACCAACTCACGGAGCTCGGGACTCTGGTACTGCAGAGTAACCAG</text>
<text stroke="#111" stroke-width="0.3" x="177.9 241.7 305.5 369.2 433.0 496.8 560.6 624.4 688.1 751.9 815.7 879.5 943.2 1007.0 1070.8 1134.6 1198.4 1262.2 1325.9 1389.7 1453.5 1517.3 1581.0 1644.8 1708.6 1772.4" y="1125.9" font-size="15" font-weight="bold" text-anchor="middle" fill="#111">NQLQTLPVGVFDQLTELGTLVLQSNQ</text>
<text stroke="#111" stroke-width="0.3" x="518.3" y="982.4" font-size="23.5" text-anchor="middle" font-weight="normal" font-style="normal" fill="#111" >3'LRRV</text>
<text stroke="#111" stroke-width="0.3" x="1349.6" y="982.4" font-size="23.5" text-anchor="middle" font-weight="normal" font-style="normal" fill="#111" >5'LRRV</text>
<polygon points="885.3,969.6 902.3,976.9 902.3,980.7 885.3,988.0 885.3,983.7 896.7,978.8 885.3,973.9" fill="#0a0a0a"/>
<polygon points="919.7,969.6 902.7,976.9 902.7,980.7 919.7,988.0 919.7,983.7 908.3,978.8 919.7,973.9" fill="#0a0a0a"/>
<rect x="145.40" y="1170.9" width="64.08" height="61.7" fill="#f3fb3f"/>
<rect x="209.18" y="1170.9" width="64.08" height="61.7" fill="#f0e5a3"/>
<rect x="272.96" y="1170.9" width="64.08" height="61.7" fill="#f3fb3f"/>
<rect x="336.74" y="1170.9" width="64.08" height="61.7" fill="#f0e5a3"/>
<rect x="400.52" y="1170.9" width="64.08" height="61.7" fill="#f3fb3f"/>
<rect x="464.30" y="1170.9" width="64.08" height="61.7" fill="#f0e5a3"/>
<rect x="528.08" y="1170.9" width="64.08" height="61.7" fill="#f3fb3f"/>
<rect x="591.86" y="1170.9" width="64.08" height="61.7" fill="#f0e5a3"/>
<rect x="655.64" y="1170.9" width="64.08" height="61.7" fill="#f3fb3f"/>
<rect x="719.42" y="1170.9" width="64.08" height="61.7" fill="#f0e5a3"/>
<rect x="783.20" y="1170.9" width="64.08" height="61.7" fill="#f3fb3f"/>
<rect x="846.98" y="1170.9" width="64.08" height="61.7" fill="#f0e5a3"/>
<rect x="910.76" y="1170.9" width="64.08" height="61.7" fill="#f3fb3f"/>
<rect x="974.54" y="1170.9" width="64.08" height="61.7" fill="#f0e5a3"/>
<rect x="1038.32" y="1170.9" width="64.08" height="61.7" fill="#f3fb3f"/>
<rect x="1102.10" y="1170.9" width="64.08" height="61.7" fill="#f0e5a3"/>
<rect x="1165.88" y="1170.9" width="64.08" height="61.7" fill="#f3fb3f"/>
<rect x="1229.66" y="1170.9" width="64.08" height="61.7" fill="#f0e5a3"/>
<rect x="1293.44" y="1170.9" width="64.08" height="61.7" fill="#f3fb3f"/>
<rect x="1357.22" y="1170.9" width="64.08" height="61.7" fill="#f0e5a3"/>
<rect x="1421.00" y="1170.9" width="64.08" height="61.7" fill="#f3fb3f"/>
<rect x="1484.78" y="1170.9" width="64.08" height="61.7" fill="#f0e5a3"/>
<rect x="1548.56" y="1170.9" width="64.08" height="61.7" fill="#f3fb3f"/>
<rect x="1612.34" y="1170.9" width="64.08" height="61.7" fill="#f0e5a3"/>
<rect x="1676.12" y="1170.9" width="64.08" height="61.7" fill="#f3fb3f"/>
<rect x="1739.90" y="1170.9" width="64.08" height="61.7" fill="#f0e5a3"/>
<rect x="1803.68" y="1170.9" width="64.08" height="61.7" fill="#f3fb3f"/>
<rect x="1867.46" y="1170.9" width="65.18" height="61.7" fill="#f0e5a3"/>
<text stroke="#f5130a" stroke-width="0.3" x="7.7" y="1187.4" font-size="16" text-anchor="start" font-weight="normal" font-style="normal" fill="#f5130a" textLength="97.4" lengthAdjust="spacingAndGlyphs">Ch.58, CI-119</text>
<text stroke="#f5130a" stroke-width="0.3" x="157.3 178.6 199.8 221.1 242.3 263.6 284.8 306.1 327.3 348.5 369.8 391.0 412.3 433.5 454.8 476.0 497.3 518.5 539.8 561.0 582.3 603.5 624.8 646.0 667.3 688.5 709.7 731.0 752.2 773.5 794.7 816.0 837.2 858.5 879.7 901.0 922.2 943.5 964.7 986.0 1007.2 1028.5 1049.7 1070.9 1092.2 1113.4 1134.7 1155.9 1177.2 1198.4 1219.7 1240.9 1262.2 1283.4 1304.7 1325.9 1347.2 1368.4 1389.6 1410.9 1432.1 1453.4 1474.6 1495.9 1517.1 1538.4 1559.6 1580.9 1602.1 1623.4 1644.6 1665.9 1687.1 1708.4 1729.6 1750.8 1772.1 1793.3 1814.6 1835.8 1857.1 1878.3 1899.6 1920.8" y="1187.4" font-size="16" text-anchor="middle" fill="#f5130a">CTGCAGAGCGTTCCTCACGGGGCCTTTGACCGTCTGGGGAAGCTGCAGACGATCACTCTGTACAGCAACCAGTTTGACTGCAGC</text>
<text stroke="#111" stroke-width="0.3" x="8.2" y="1207.5" font-size="16" fill="#111"><tspan font-style="italic">VLRF</tspan> (PQ159780)</text>
<text stroke="#111" stroke-width="0.3" x="157.3 178.6 199.8 221.1 242.3 263.6 284.8 306.1 327.3 348.5 369.8 391.0 412.3 433.5 454.8 476.0 497.3 518.5 539.8 561.0 582.3 603.5 624.8 646.0 667.3 688.5 709.7 731.0 752.2 773.5 794.7 816.0 837.2 858.5 879.7 901.0 922.2 943.5 964.7 986.0 1007.2 1028.5 1049.7 1070.9 1092.2 1113.4 1134.7 1155.9 1177.2 1198.4 1219.7 1240.9 1262.2 1283.4 1304.7 1325.9 1347.2 1368.4 1389.6 1410.9 1432.1 1453.4 1474.6 1495.9 1517.1 1538.4 1559.6 1580.9 1602.1 1623.4 1644.6 1665.9 1687.1 1708.4 1729.6 1750.8 1772.1 1793.3 1814.6 1835.8 1857.1 1878.3 1899.6 1920.8" y="1207.5" font-size="16" text-anchor="middle" fill="#111">CTGCAGAGCGTTCCTCACGGGGCCTTTGACCGTCTGGGGAAGCTGCAGACGATCACTCTGTACAGCAACCAGTTTGACTGCAGC</text>
<text stroke="#111" stroke-width="0.3" x="8.2" y="1227.7" font-size="16" fill="#111"><tspan font-style="italic">VLRA</tspan> (KJ716284)</text>
<text stroke="#111" stroke-width="0.3" x="157.3 178.6 199.8 221.1 242.3 263.6 284.8 306.1 327.3 348.5 369.8 391.0 412.3 433.5 454.8 476.0 497.3 518.5 539.8 561.0 582.3 603.5 624.8 646.0 667.3 688.5 709.7 731.0 752.2 773.5 794.7 816.0 837.2 858.5 879.7 901.0 922.2 943.5 964.7 986.0 1007.2 1028.5 1049.7 1070.9 1092.2 1113.4 1134.7 1155.9 1177.2 1198.4 1219.7 1240.9 1262.2 1283.4 1304.7 1325.9 1347.2 1368.4 1389.6 1410.9 1432.1 1453.4 1474.6 1495.9 1517.1 1538.4 1559.6 1580.9 1602.1 1623.4 1644.6 1665.9 1687.1 1708.4 1729.6 1750.8 1772.1 1793.3 1814.6 1835.8 1857.1 1878.3 1899.6 1920.8" y="1227.7" font-size="16" text-anchor="middle" fill="#111">CTGCAGAGCGTTCCTCACGGGGCCTTTGACCGTCTGGGGAAGCTGCAGACGATCACTCTGTACAGCAACCAGTTTGACTGCAGC</text>
<text stroke="#111" stroke-width="0.3" x="177.9 241.7 305.5 369.2 433.0 496.8 560.6 624.4 688.1 751.9 815.7 879.5 943.2 1007.0 1070.8 1134.6 1198.4 1262.2 1325.9 1389.7 1453.5 1517.3 1581.0 1644.8 1708.6 1772.4 1836.2 1900.0" y="1247.8" font-size="15" font-weight="bold" text-anchor="middle" fill="#111">LOSVPHGAFDRLGKLQTITLYSNQFDCS</text>
<text stroke="#111" stroke-width="0.3" x="456.7" y="1164.0" font-size="23.5" text-anchor="middle" font-weight="normal" font-style="normal" fill="#111" >3'LRRV</text>
<text stroke="#111" stroke-width="0.3" x="1161.4" y="1164.0" font-size="23.5" text-anchor="middle" font-weight="normal" font-style="normal" fill="#111" >CP</text>
<text stroke="#111" stroke-width="0.3" x="1731.2" y="1164.0" font-size="23.5" text-anchor="middle" font-weight="normal" font-style="normal" fill="#111" >5'LRRCT</text>
<polygon points="767.3,1152.0 784.3,1159.3 784.3,1163.1 767.3,1170.4 767.3,1166.1 778.7,1161.2 767.3,1156.3" fill="#0a0a0a"/>
<polygon points="801.7,1152.0 784.7,1159.3 784.7,1163.1 801.7,1170.4 801.7,1166.1 790.3,1161.2 801.7,1156.3" fill="#0a0a0a"/>
<polygon points="1530.9,1152.0 1547.9,1159.3 1547.9,1163.1 1530.9,1170.4 1530.9,1166.1 1542.3,1161.2 1530.9,1156.3" fill="#0a0a0a"/>
<polygon points="1565.3,1152.0 1548.3,1159.3 1548.3,1163.1 1565.3,1170.4 1565.3,1166.1 1553.9,1161.2 1565.3,1156.3" fill="#0a0a0a"/>
<rect x="145.40" y="1292.8" width="64.08" height="61.7" fill="#f3fb3f"/>
<rect x="209.18" y="1292.8" width="64.08" height="61.7" fill="#f0e5a3"/>
<rect x="272.96" y="1292.8" width="64.08" height="61.7" fill="#f3fb3f"/>
<rect x="336.74" y="1292.8" width="64.08" height="61.7" fill="#f0e5a3"/>
<rect x="400.52" y="1292.8" width="64.08" height="61.7" fill="#f3fb3f"/>
<rect x="464.30" y="1292.8" width="64.08" height="61.7" fill="#f0e5a3"/>
<rect x="528.08" y="1292.8" width="64.08" height="61.7" fill="#f3fb3f"/>
<rect x="591.86" y="1292.8" width="64.08" height="61.7" fill="#f0e5a3"/>
<rect x="655.64" y="1292.8" width="64.08" height="61.7" fill="#f3fb3f"/>
<rect x="719.42" y="1292.8" width="64.08" height="61.7" fill="#f0e5a3"/>
<rect x="783.20" y="1292.8" width="64.08" height="61.7" fill="#f3fb3f"/>
<rect x="846.98" y="1292.8" width="64.08" height="61.7" fill="#f0e5a3"/>
<rect x="910.76" y="1292.8" width="64.08" height="61.7" fill="#f3fb3f"/>
<rect x="974.54" y="1292.8" width="64.08" height="61.7" fill="#f0e5a3"/>
<rect x="1038.32" y="1292.8" width="64.08" height="61.7" fill="#f3fb3f"/>
<rect x="1102.10" y="1292.8" width="64.08" height="61.7" fill="#f0e5a3"/>
<rect x="1165.88" y="1292.8" width="64.08" height="61.7" fill="#f3fb3f"/>
<rect x="1229.66" y="1292.8" width="64.08" height="61.7" fill="#f0e5a3"/>
<rect x="1293.44" y="1292.8" width="64.08" height="61.7" fill="#f3fb3f"/>
<rect x="1357.22" y="1292.8" width="64.08" height="61.7" fill="#f0e5a3"/>
<rect x="1421.00" y="1292.8" width="64.08" height="61.7" fill="#f3fb3f"/>
<rect x="1484.78" y="1292.8" width="64.08" height="61.7" fill="#f0e5a3"/>
<rect x="1548.56" y="1292.8" width="64.08" height="61.7" fill="#f3fb3f"/>
<rect x="1612.34" y="1292.8" width="64.08" height="61.7" fill="#f0e5a3"/>
<rect x="1676.12" y="1292.8" width="64.08" height="61.7" fill="#f3fb3f"/>
<rect x="1739.90" y="1292.8" width="64.08" height="61.7" fill="#f0e5a3"/>
<rect x="1803.68" y="1292.8" width="64.08" height="61.7" fill="#f3fb3f"/>
<rect x="1867.46" y="1292.8" width="65.18" height="61.7" fill="#f0e5a3"/>
<text stroke="#f5130a" stroke-width="0.3" x="7.7" y="1309.3" font-size="16" text-anchor="start" font-weight="normal" font-style="normal" fill="#f5130a" textLength="97.4" lengthAdjust="spacingAndGlyphs">Ch.58, CI-102</text>
<text stroke="#f5130a" stroke-width="0.3" x="157.3 178.6 199.8 221.1 242.3 263.6 284.8 306.1 327.3 348.5 369.8 391.0 412.3 433.5 454.8 476.0 497.3 518.5 539.8 561.0 582.3 603.5 624.8 646.0 667.3 688.5 709.7 731.0 752.2 773.5 794.7 816.0 837.2 858.5 879.7 901.0 922.2 943.5 964.7 986.0 1007.2 1028.5 1049.7 1070.9 1092.2 1113.4 1134.7 1155.9 1177.2 1198.4 1219.7 1240.9 1262.2 1283.4 1304.7 1325.9 1347.2 1368.4 1389.6 1410.9 1432.1 1453.4 1474.6 1495.9 1517.1 1538.4 1559.6 1580.9 1602.1 1623.4 1644.6 1665.9 1687.1 1708.4 1729.6 1750.8 1772.1 1793.3 1814.6 1835.8 1857.1 1878.3 1899.6 1920.8" y="1309.3" font-size="16" text-anchor="middle" fill="#f5130a">CAGACAATAGACCTGACCTCCAACGCGTGGGACTGCAGCAGGTGCGAGATCCTGTACCTCAGCCAGTGGATCCGAGAGAACTCG</text>
<text stroke="#111" stroke-width="0.3" x="8.2" y="1329.4" font-size="16" fill="#111"><tspan font-style="italic">VLRF</tspan> (PQ159788)</text>
<text stroke="#111" stroke-width="0.3" x="157.3 178.6 199.8 221.1 242.3 263.6 284.8 306.1 327.3 348.5 369.8 391.0 412.3 433.5 454.8 476.0 497.3 518.5 539.8 561.0 582.3 603.5 624.8 646.0 667.3 688.5 709.7 731.0 752.2 773.5 794.7 816.0 837.2 858.5 879.7 901.0 922.2 943.5 964.7 986.0 1007.2 1028.5 1049.7 1070.9 1092.2 1113.4 1134.7 1155.9 1177.2 1198.4 1219.7 1240.9 1262.2 1283.4 1304.7 1325.9 1347.2 1368.4 1389.6 1410.9 1432.1 1453.4 1474.6 1495.9 1517.1 1538.4 1559.6 1580.9 1602.1 1623.4 1644.6 1665.9 1687.1 1708.4 1729.6 1750.8 1772.1 1793.3 1814.6 1835.8 1857.1 1878.3 1899.6 1920.8" y="1329.4" font-size="16" text-anchor="middle" fill="#111">CAGACAATAGACCTGACCTCCAACGCGTGGGACTGCAGCAGGTGCGAGATCCTGTACCTCAGCCAGTGGATCCGAGAGAACTCG</text>
<text stroke="#111" stroke-width="0.3" x="8.2" y="1349.6" font-size="16" fill="#111"><tspan font-style="italic">VLRA</tspan> (EF094800)</text>
<text stroke="#111" stroke-width="0.3" x="157.3 178.6 199.8 221.1 242.3 263.6 284.8 306.1 327.3 348.5 369.8 391.0 412.3 433.5 454.8 476.0 497.3 518.5 539.8 561.0 582.3 603.5 624.8 646.0 667.3 688.5 709.7 731.0 752.2 773.5 794.7 816.0 837.2 858.5 879.7 901.0 922.2 943.5 964.7 986.0 1007.2 1028.5 1049.7 1070.9 1092.2 1113.4 1134.7 1155.9 1177.2 1198.4 1219.7 1240.9 1262.2 1283.4 1304.7 1325.9 1347.2 1368.4 1389.6 1410.9 1432.1 1453.4 1474.6 1495.9 1517.1 1538.4 1559.6 1580.9 1602.1 1623.4 1644.6 1665.9 1687.1 1708.4 1729.6 1750.8 1772.1 1793.3 1814.6 1835.8 1857.1 1878.3 1899.6 1920.8" y="1349.6" font-size="16" text-anchor="middle" fill="#111">CAGACAATAGACCTGACCTCCAACGCGTGGGACTGCAGCAGGTGCGAGATCCTGTACCTCAGCCAGTGGATCCGAGAGAACTCG</text>
<text stroke="#111" stroke-width="0.3" x="177.9 241.7 305.5 369.2 433.0 496.8 560.6 624.4 688.1 751.9 815.7 879.5 943.2 1007.0 1070.8 1134.6 1198.4 1262.2 1325.9 1389.7 1453.5 1517.3 1581.0 1644.8 1708.6 1772.4 1836.2 1900.0" y="1369.7" font-size="15" font-weight="bold" text-anchor="middle" fill="#111">QTIDLTSNAWDCSRCEILYLSQWIRENS</text>
<text stroke="#111" stroke-width="0.3" x="363.5" y="1287.2" font-size="23.5" text-anchor="middle" font-weight="normal" font-style="normal" fill="#111" >3'CP</text>
<text stroke="#111" stroke-width="0.3" x="845.1" y="1287.2" font-size="23.5" text-anchor="middle" font-weight="normal" font-style="normal" fill="#111" >5'LRRCT</text>
<text stroke="#111" stroke-width="0.3" x="1516.4" y="1287.2" font-size="23.5" text-anchor="middle" font-weight="normal" font-style="normal" fill="#111" >LRRCTm</text>
<polygon points="576.1,1272.0 593.1,1279.3 593.1,1283.1 576.1,1290.4 576.1,1286.1 587.5,1281.2 576.1,1276.3" fill="#0a0a0a"/>
<polygon points="610.5,1272.0 593.5,1279.3 593.5,1283.1 610.5,1290.4 610.5,1286.1 599.1,1281.2 610.5,1276.3" fill="#0a0a0a"/>
<polygon points="1086.1,1272.0 1103.1,1279.3 1103.1,1283.1 1086.1,1290.4 1086.1,1286.1 1097.5,1281.2 1086.1,1276.3" fill="#0a0a0a"/>
<polygon points="1120.5,1272.0 1103.5,1279.3 1103.5,1283.1 1120.5,1290.4 1120.5,1286.1 1109.1,1281.2 1120.5,1276.3" fill="#0a0a0a"/>
</g>
<g id="panel-d">
<text stroke="#111" stroke-width="0.3" x="7.0" y="1431.3" font-size="47.5" text-anchor="start" font-weight="bold" font-style="normal" fill="#111" >d</text>
<text stroke="#111" stroke-width="0.3" x="487.5" y="1437.3" font-size="29.5" text-anchor="middle" font-weight="bold" font-style="normal" fill="#111" >Chr 58</text>
<text stroke="#111" stroke-width="0.3" x="941.0" y="1437.3" font-size="29.5" text-anchor="middle" font-weight="bold" font-style="normal" fill="#111" >Chr 7</text>
<text stroke="#111" stroke-width="0.3" x="1473.4" y="1437.3" font-size="29.5" text-anchor="middle" font-weight="bold" font-style="normal" fill="#111" >Chr 75</text>
<text stroke="#111" stroke-width="0.3" x="329.6" y="1482" font-size="25" font-weight="bold" text-anchor="middle" fill="#111">g<tspan font-style="italic">VLRA</tspan></text>
<text stroke="#111" stroke-width="0.3" x="529.6" y="1482" font-size="25" font-weight="bold" text-anchor="middle" fill="#111">g<tspan font-style="italic">VLRF</tspan></text>
<text stroke="#111" stroke-width="0.3" x="999.8" y="1482" font-size="25" font-weight="bold" text-anchor="middle" fill="#111">g<tspan font-style="italic">VLRC</tspan></text>
<text stroke="#111" stroke-width="0.3" x="1431.2" y="1482" font-size="25" font-weight="bold" text-anchor="middle" fill="#111">g<tspan font-style="italic">VLRD</tspan></text>
<text stroke="#111" stroke-width="0.3" x="1632.0" y="1482" font-size="25" font-weight="bold" text-anchor="middle" fill="#111">g<tspan font-style="italic">VLRE</tspan></text>
<rect x="237.3" y="1491.7" width="176.6" height="70.1" rx="2" fill="#e1f9dc"/>
<rect x="445.6" y="1491.7" width="176.5" height="70.1" rx="2" fill="#e1f9dc"/>
<rect x="905.9" y="1491.7" width="191.7" height="70.1" rx="2" fill="#e1f9dc"/>
<rect x="1313.3" y="1490.1" width="196.9" height="69.9" rx="2" fill="#e1f9dc"/>
<rect x="1529.5" y="1491.7" width="196.7" height="70.1" rx="2" fill="#e1f9dc"/>
<rect x="244.8" y="1516.2" width="38.2" height="18.4" rx="9.2" fill="#e0cf3b"/>
<ellipse cx="294.3" cy="1523.5" rx="12.9" ry="22.6" fill="#4a6fb5"/>
<path d="M324.5,1503.4 H330.6 A13.0,14.6 0 0 1 343.6,1518.0 V1529.4 A13.0,14.6 0 0 1 330.6,1544.0 H324.5 Z" fill="#c63a34"/>
<rect x="342.8" y="1516.2" width="60.4" height="18.4" rx="9.2" fill="#c341a4"/>
<line x1="306.8" y1="1523.5" x2="326.6" y2="1523.5" stroke="#0c0c0c" stroke-width="3.4"/>
<rect x="451.9" y="1516.8" width="60.5" height="18.2" rx="9.1" fill="#c341a4"/>
<path d="M530.8,1503.9 H524.6 A13.1,14.7 0 0 0 511.5,1518.6 V1530.0 A13.1,14.7 0 0 0 524.6,1544.7 H530.8 Z" fill="#c63a34"/>
<ellipse cx="560.9" cy="1524.2" rx="12.9" ry="22.4" fill="#4a6fb5"/>
<rect x="573.3" y="1516.8" width="37.5" height="18.2" rx="9.1" fill="#e0cf3b"/>
<line x1="528.4" y1="1524.0" x2="548.6" y2="1524.0" stroke="#0c0c0c" stroke-width="3.4"/>
<rect x="914.5" y="1516.4" width="59.5" height="18.4" rx="9.2" fill="#c341a4"/>
<rect x="972.6" y="1503.4" width="37.0" height="41.0" rx="14" fill="#c63a34"/>
<ellipse cx="1038.8" cy="1523.7" rx="13.1" ry="22.6" fill="#4a6fb5"/>
<rect x="1051.2" y="1516.4" width="37.1" height="18.4" rx="9.2" fill="#e0cf3b"/>
<line x1="1009.3" y1="1523.8" x2="1026.2" y2="1523.8" stroke="#0c0c0c" stroke-width="3.4"/>
<rect x="1324.9" y="1516.9" width="38.3" height="18.2" rx="9.1" fill="#e0cf3b"/>
<path d="M1382.1,1503.0 H1375.8 A13.5,14.8 0 0 0 1362.3,1517.8 V1529.4 A13.5,14.8 0 0 0 1375.8,1544.2 H1382.1 Z" fill="#4a6fb5"/>
<rect x="1404.0" y="1503.8" width="36.9" height="41.0" rx="14" fill="#c63a34"/>
<rect x="1440.4" y="1516.9" width="58.3" height="18.2" rx="9.1" fill="#c341a4"/>
<line x1="1381.8" y1="1524.0" x2="1404.6" y2="1524.0" stroke="#0c0c0c" stroke-width="3.4"/>
<rect x="1536.3" y="1517.9" width="37.7" height="18.2" rx="9.1" fill="#e0cf3b"/>
<ellipse cx="1586.0" cy="1525.0" rx="13.0" ry="22.5" fill="#4a6fb5"/>
<rect x="1599.4" y="1504.1" width="12.2" height="43.5" rx="1.5" fill="#bbe2f5"/>
<rect x="1625.0" y="1504.6" width="36.9" height="40.9" rx="14" fill="#c63a34"/>
<rect x="1661.2" y="1517.9" width="58.4" height="18.2" rx="9.1" fill="#c341a4"/>
<line x1="1611.4" y1="1525.0" x2="1625.6" y2="1525.0" stroke="#0c0c0c" stroke-width="3.4"/>
<line x1="416.7" y1="1493.6" x2="416.7" y2="1584" stroke="#000" stroke-width="3.5"/>
<line x1="443.3" y1="1493.6" x2="443.3" y2="1584" stroke="#000" stroke-width="3.5"/>
<line x1="903.3" y1="1493.6" x2="903.3" y2="1584" stroke="#000" stroke-width="3.5"/>
<line x1="1513.3" y1="1493.6" x2="1513.3" y2="1584" stroke="#000" stroke-width="3.5"/>
<line x1="1526.8" y1="1493.6" x2="1526.8" y2="1584" stroke="#000" stroke-width="3.5"/>
<path d="M1545.5,1627 V1708 H1374.4 V1722" fill="none" stroke="#d2703a" stroke-width="3.2"/>
<path d="M1545.5,1708 H1760.3 V1722" fill="none" stroke="#d2703a" stroke-width="3.2"/>
<path d="M897.3,1627 V1654.2 H983 V1722" fill="none" stroke="#7f7f7f" stroke-width="3.2"/>
<path d="M419,1627 V1635.9 H198.3 V1722" fill="none" stroke="#6466d6" stroke-width="3.2"/>
<path d="M428.5,1627 V1658.3 H578.1 V1722" fill="none" stroke="#6466d6" stroke-width="3.2"/>
<path d="M548.5,1627 V1648.8 H211.2 V1722" fill="none" stroke="#83389f" stroke-width="3.2"/>
<path d="M559.3,1627 V1649.7 H589.4 V1722" fill="none" stroke="#83389f" stroke-width="3.2"/>
<path d="M572.2,1627 V1640.8 H1725.9 V1722" fill="none" stroke="#83389f" stroke-width="3.2"/>
<path d="M972.2,1640.8 V1722" fill="none" stroke="#83389f" stroke-width="3.2"/>
<path d="M1342.6,1640.8 V1722" fill="none" stroke="#83389f" stroke-width="3.2"/>
<path d="M225.9,1722 V1673.6 H876.9 V1628" fill="none" stroke="#666666" stroke-width="2.5" stroke-dasharray="5.6 5.3"/>
<path d="M601.2,1722 V1653.2 H886 V1628" fill="none" stroke="#666666" stroke-width="2.5" stroke-dasharray="5.6 5.3"/>
<path d="M876.9,1674.6 H1745.8 V1722" fill="none" stroke="#666666" stroke-width="2.5" stroke-dasharray="5.6 5.3"/>
<path d="M1364.2,1674.6 V1722" fill="none" stroke="#666666" stroke-width="2.5" stroke-dasharray="5.6 5.3"/>
<path d="M446.6,1628 V1686.2 H1735.7 V1722" fill="none" stroke="#4a4bdc" stroke-width="2.5" stroke-dasharray="5.6 5.3"/>
<path d="M964,1686.2 V1722" fill="none" stroke="#4a4bdc" stroke-width="2.5" stroke-dasharray="5.6 5.3"/>
<path d="M1354,1686.2 V1722" fill="none" stroke="#4a4bdc" stroke-width="2.5" stroke-dasharray="5.6 5.3"/>
<path d="M1533.1,1628 V1651 H993.5 V1722" fill="none" stroke="#d2621f" stroke-width="2.5" stroke-dasharray="5.6 5.3"/>
<rect x="383.2" y="1584.5" width="225.4" height="41.6" rx="20.8" fill="#fff" stroke="#000" stroke-width="3.2"/>
<rect x="845.7" y="1584.5" width="225.5" height="41.6" rx="20.8" fill="#fff" stroke="#000" stroke-width="3.2"/>
<rect x="1366.0" y="1584.5" width="226.0" height="41.6" rx="20.8" fill="#fff" stroke="#000" stroke-width="3.2"/>
<rect x="415.1" y="1582.9" width="30.4" height="44.8" rx="1.5" fill="#6e6bd8"/>
<rect x="545.7" y="1582.9" width="30.1" height="44.8" rx="1.5" fill="#85419b"/>
<rect x="875.7" y="1582.9" width="30.2" height="44.8" rx="1.5" fill="#7f8080"/>
<rect x="1524.5" y="1582.9" width="30.1" height="44.8" rx="1.5" fill="#d1743b"/>
<polygon points="186.4,1725.2 236.4,1725.2 211.4,1752.1" fill="#edf2fb" stroke="#3c3c3c" stroke-width="5.4" stroke-linejoin="round"/>
<polygon points="565.4,1725.2 615.4,1725.2 590.4,1752.1" fill="#edf2fb" stroke="#3c3c3c" stroke-width="5.4" stroke-linejoin="round"/>
<polygon points="950.3,1725.2 1000.3,1725.2 975.3,1752.1" fill="#edf2fb" stroke="#3c3c3c" stroke-width="5.4" stroke-linejoin="round"/>
<polygon points="1335.2,1725.2 1385.2,1725.2 1360.2,1752.1" fill="#edf2fb" stroke="#3c3c3c" stroke-width="5.4" stroke-linejoin="round"/>
<polygon points="1717.2,1725.2 1767.2,1725.2 1742.2,1752.1" fill="#edf2fb" stroke="#3c3c3c" stroke-width="5.4" stroke-linejoin="round"/>
<rect x="76.6" y="1795.5" width="35.5" height="18.0" rx="9.0" fill="#e0cf3b"/>
<ellipse cx="123.4" cy="1802.6" rx="12.2" ry="22.6" fill="#4a6fb5"/>
<rect x="135.8" y="1780.2" width="25.0" height="43.4" rx="2.5" fill="#bbe2f5"/>
<polygon points="161.4,1802.4 168.0,1781.6 181.6,1781.6 188.2,1802.4 181.6,1823.2 168.0,1823.2" fill="#54ab48" stroke="#54ab48" stroke-width="2.4" stroke-linejoin="round"/>
<polygon points="187.6,1802.4 194.2,1781.6 207.8,1781.6 214.4,1802.4 207.8,1823.2 194.2,1823.2" fill="#54ab48" stroke="#54ab48" stroke-width="2.4" stroke-linejoin="round"/>
<polygon points="213.7,1802.4 220.3,1781.6 233.9,1781.6 240.5,1802.4 233.9,1823.2 220.3,1823.2" fill="#54ab48" stroke="#54ab48" stroke-width="2.4" stroke-linejoin="round"/>
<polygon points="239.9,1802.4 246.5,1781.6 260.1,1781.6 266.7,1802.4 260.1,1823.2 246.5,1823.2" fill="#54ab48" stroke="#54ab48" stroke-width="2.4" stroke-linejoin="round"/>
<polygon points="269.8,1780.4 279.6,1802.4 269.8,1826.0" fill="#cc4b4f" stroke="#cc4b4f" stroke-width="3" stroke-linejoin="round"/>
<rect x="280.9" y="1782.3" width="34.2" height="40.7" rx="14" fill="#c63a34"/>
<rect x="314.6" y="1795.5" width="54.6" height="18.0" rx="9.0" fill="#c341a4"/>
<rect x="459.2" y="1795.5" width="35.5" height="18.0" rx="9.0" fill="#e0cf3b"/>
<ellipse cx="506.0" cy="1802.6" rx="12.2" ry="22.6" fill="#4a6fb5"/>
<rect x="518.4" y="1780.2" width="25.0" height="43.4" rx="2.5" fill="#bbe2f5"/>
<polygon points="544.0,1802.4 550.6,1781.6 564.2,1781.6 570.8,1802.4 564.2,1823.2 550.6,1823.2" fill="#54ab48" stroke="#54ab48" stroke-width="2.4" stroke-linejoin="round"/>
<polygon points="570.2,1802.4 576.8,1781.6 590.4,1781.6 597.0,1802.4 590.4,1823.2 576.8,1823.2" fill="#54ab48" stroke="#54ab48" stroke-width="2.4" stroke-linejoin="round"/>
<polygon points="596.3,1802.4 602.9,1781.6 616.5,1781.6 623.1,1802.4 616.5,1823.2 602.9,1823.2" fill="#54ab48" stroke="#54ab48" stroke-width="2.4" stroke-linejoin="round"/>
<polygon points="622.5,1802.4 629.1,1781.6 642.7,1781.6 649.3,1802.4 642.7,1823.2 629.1,1823.2" fill="#54ab48" stroke="#54ab48" stroke-width="2.4" stroke-linejoin="round"/>
<polygon points="652.4,1780.4 662.2,1802.4 652.4,1826.0" fill="#cc4b4f" stroke="#cc4b4f" stroke-width="3" stroke-linejoin="round"/>
<rect x="663.5" y="1782.3" width="34.2" height="40.7" rx="14" fill="#c63a34"/>
<rect x="697.2" y="1795.5" width="54.6" height="18.0" rx="9.0" fill="#c341a4"/>
<rect x="841.6" y="1795.5" width="35.5" height="18.0" rx="9.0" fill="#e0cf3b"/>
<ellipse cx="888.4" cy="1802.6" rx="12.2" ry="22.6" fill="#4a6fb5"/>
<rect x="900.8" y="1780.2" width="25.0" height="43.4" rx="2.5" fill="#bbe2f5"/>
<polygon points="926.4,1802.4 933.0,1781.6 946.6,1781.6 953.2,1802.4 946.6,1823.2 933.0,1823.2" fill="#54ab48" stroke="#54ab48" stroke-width="2.4" stroke-linejoin="round"/>
<polygon points="952.6,1802.4 959.2,1781.6 972.8,1781.6 979.4,1802.4 972.8,1823.2 959.2,1823.2" fill="#54ab48" stroke="#54ab48" stroke-width="2.4" stroke-linejoin="round"/>
<polygon points="978.7,1802.4 985.3,1781.6 998.9,1781.6 1005.5,1802.4 998.9,1823.2 985.3,1823.2" fill="#54ab48" stroke="#54ab48" stroke-width="2.4" stroke-linejoin="round"/>
<polygon points="1004.9,1802.4 1011.5,1781.6 1025.1,1781.6 1031.7,1802.4 1025.1,1823.2 1011.5,1823.2" fill="#54ab48" stroke="#54ab48" stroke-width="2.4" stroke-linejoin="round"/>
<polygon points="1034.8,1780.4 1044.6,1802.4 1034.8,1826.0" fill="#cc4b4f" stroke="#cc4b4f" stroke-width="3" stroke-linejoin="round"/>
<rect x="1045.9" y="1782.3" width="34.2" height="40.7" rx="14" fill="#c63a34"/>
<rect x="1079.6" y="1795.5" width="54.6" height="18.0" rx="9.0" fill="#c341a4"/>
<rect x="1223.9" y="1795.5" width="35.5" height="18.0" rx="9.0" fill="#e0cf3b"/>
<ellipse cx="1270.7" cy="1802.6" rx="12.2" ry="22.6" fill="#4a6fb5"/>
<rect x="1283.1" y="1780.2" width="25.0" height="43.4" rx="2.5" fill="#bbe2f5"/>
<polygon points="1308.7,1802.4 1315.3,1781.6 1328.9,1781.6 1335.5,1802.4 1328.9,1823.2 1315.3,1823.2" fill="#54ab48" stroke="#54ab48" stroke-width="2.4" stroke-linejoin="round"/>
<polygon points="1334.9,1802.4 1341.5,1781.6 1355.1,1781.6 1361.7,1802.4 1355.1,1823.2 1341.5,1823.2" fill="#54ab48" stroke="#54ab48" stroke-width="2.4" stroke-linejoin="round"/>
<polygon points="1361.0,1802.4 1367.6,1781.6 1381.2,1781.6 1387.8,1802.4 1381.2,1823.2 1367.6,1823.2" fill="#54ab48" stroke="#54ab48" stroke-width="2.4" stroke-linejoin="round"/>
<polygon points="1387.2,1802.4 1393.8,1781.6 1407.4,1781.6 1414.0,1802.4 1407.4,1823.2 1393.8,1823.2" fill="#54ab48" stroke="#54ab48" stroke-width="2.4" stroke-linejoin="round"/>
<polygon points="1417.1,1780.4 1426.9,1802.4 1417.1,1826.0" fill="#cc4b4f" stroke="#cc4b4f" stroke-width="3" stroke-linejoin="round"/>
<rect x="1428.2" y="1782.3" width="34.2" height="40.7" rx="14" fill="#c63a34"/>
<rect x="1461.9" y="1795.5" width="54.6" height="18.0" rx="9.0" fill="#c341a4"/>
<rect x="1607.1" y="1795.5" width="35.5" height="18.0" rx="9.0" fill="#e0cf3b"/>
<ellipse cx="1653.9" cy="1802.6" rx="12.2" ry="22.6" fill="#4a6fb5"/>
<rect x="1666.3" y="1780.2" width="25.0" height="43.4" rx="2.5" fill="#bbe2f5"/>
<polygon points="1691.9,1802.4 1698.5,1781.6 1712.1,1781.6 1718.7,1802.4 1712.1,1823.2 1698.5,1823.2" fill="#54ab48" stroke="#54ab48" stroke-width="2.4" stroke-linejoin="round"/>
<polygon points="1718.1,1802.4 1724.7,1781.6 1738.3,1781.6 1744.9,1802.4 1738.3,1823.2 1724.7,1823.2" fill="#54ab48" stroke="#54ab48" stroke-width="2.4" stroke-linejoin="round"/>
<polygon points="1744.2,1802.4 1750.8,1781.6 1764.4,1781.6 1771.0,1802.4 1764.4,1823.2 1750.8,1823.2" fill="#54ab48" stroke="#54ab48" stroke-width="2.4" stroke-linejoin="round"/>
<polygon points="1770.4,1802.4 1777.0,1781.6 1790.6,1781.6 1797.2,1802.4 1790.6,1823.2 1777.0,1823.2" fill="#54ab48" stroke="#54ab48" stroke-width="2.4" stroke-linejoin="round"/>
<polygon points="1800.3,1780.4 1810.1,1802.4 1800.3,1826.0" fill="#cc4b4f" stroke="#cc4b4f" stroke-width="3" stroke-linejoin="round"/>
<rect x="1811.4" y="1782.3" width="34.2" height="40.7" rx="14" fill="#c63a34"/>
<rect x="1845.1" y="1795.5" width="54.6" height="18.0" rx="9.0" fill="#c341a4"/>
<text stroke="#111" stroke-width="0.3" x="219.9" y="1868.6" font-size="28.6" text-anchor="middle" font-weight="bold" font-style="italic" fill="#111" >VLRA</text>
<text stroke="#111" stroke-width="0.3" x="602.6" y="1868.6" font-size="28.6" text-anchor="middle" font-weight="bold" font-style="italic" fill="#111" >VLRF</text>
<text stroke="#111" stroke-width="0.3" x="985.2" y="1868.6" font-size="28.6" text-anchor="middle" font-weight="bold" font-style="italic" fill="#111" >VLRC</text>
<text stroke="#111" stroke-width="0.3" x="1371.5" y="1868.6" font-size="28.6" text-anchor="middle" font-weight="bold" font-style="italic" fill="#111" >VLRD</text>
<text stroke="#111" stroke-width="0.3" x="1745.2" y="1868.6" font-size="28.6" text-anchor="middle" font-weight="bold" font-style="italic" fill="#111" >VLRE</text>
</g>
</svg>
</body>
</html>
